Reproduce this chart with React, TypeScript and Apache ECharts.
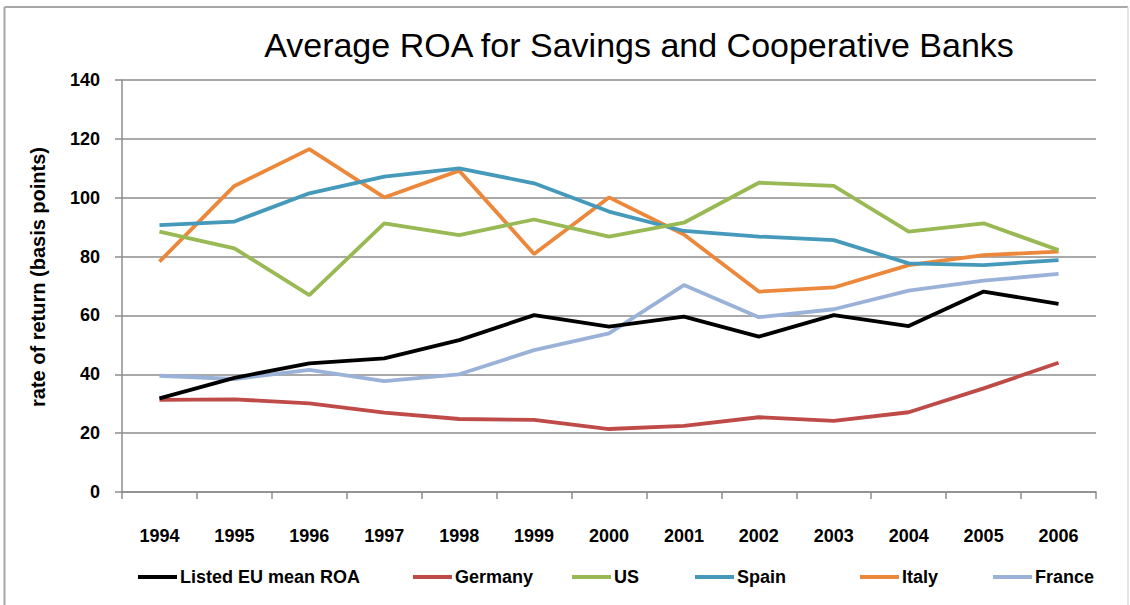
import React, { useEffect, useRef } from "react";
import * as echarts from "echarts";

const years = ["1994", "1995", "1996", "1997", "1998", "1999", "2000", "2001", "2002", "2003", "2004", "2005", "2006"];
const listedEU = [31.8, 38.8, 43.7, 45.4, 51.6, 60.1, 56.2, 59.6, 52.8, 60.1, 56.4, 68.1, 63.9];
const germany = [31.3, 31.5, 30.1, 27.0, 24.8, 24.5, 21.4, 22.5, 25.4, 24.2, 27.1, 35.2, 43.9];
const us = [88.5, 82.8, 66.9, 91.3, 87.3, 92.6, 86.8, 91.5, 105.1, 104.0, 88.5, 91.3, 82.2];
const spain = [90.7, 91.9, 101.5, 107.2, 110.0, 104.9, 95.3, 88.7, 86.8, 85.6, 77.7, 77.1, 78.8];
const italy = [78.3, 104.0, 116.5, 100.1, 109.2, 80.9, 100.1, 87.5, 68.1, 69.5, 77.1, 80.5, 81.7];
const france = [39.5, 38.4, 41.5, 37.7, 40.0, 48.2, 53.9, 70.3, 59.4, 62.1, 68.4, 71.8, 74.1];

const seriesNames = ["Listed EU mean ROA", "Germany", "US", "Spain", "Italy", "France"];
const seriesData = [listedEU, germany, us, spain, italy, france];
const colors = ["#000000", "#be4b48", "#98b954", "#4599ba", "#ec883b", "#9bb2d8"];
const legendLefts = [133, 408, 567, 690, 855, 988];

const FONT = "'Liberation Sans', Arial, sans-serif";

export default function App() {
  const ref = useRef<HTMLDivElement>(null);
  useEffect(() => {
    document.body.style.margin = "0";
    const chart = echarts.init(ref.current!, null, { renderer: "svg" });
    const option: any = {
      animation: false,
      backgroundColor: "#ffffff",
      title: {
        text: "Average ROA for Savings and Cooperative Banks",
        left: 634,
        textAlign: "center",
        top: 23,
        textStyle: { fontFamily: FONT, fontSize: 34, fontWeight: "normal", color: "#000" },
      },
      grid: { left: 122, right: 34, top: 80, bottom: 113, containLabel: false },
      legend: seriesNames.map((n, i) => ({
        data: [n],
        left: legendLefts[i],
        top: 563,
        icon: "rect",
        itemWidth: 39,
        itemHeight: 4,
        textStyle: { fontFamily: FONT, fontSize: 18, fontWeight: "bold", color: "#000", padding: [0, 0, 0, -2] },
      })),
      xAxis: {
        type: "category",
        data: years,
        boundaryGap: true,
        axisLine: { lineStyle: { color: "#8c8c8c", width: 1.5 } },
        axisTick: { show: true, length: 7, interval: 0, lineStyle: { color: "#8c8c8c", width: 1.5 } },
        axisLabel: { margin: 35, fontFamily: FONT, fontSize: 18, fontWeight: "bold", color: "#000", interval: 0 },
      },
      yAxis: {
        type: "value",
        min: 0,
        max: 140,
        interval: 20,
        axisLine: { show: true, lineStyle: { color: "#8c8c8c", width: 1.5 } },
        axisTick: { show: true, length: 7, lineStyle: { color: "#8c8c8c", width: 1.5 } },
        axisLabel: { margin: 22, fontFamily: FONT, fontSize: 18, fontWeight: "bold", color: "#000" },
        splitLine: { lineStyle: { color: "#8c8c8c", width: 1.5 } },
      },
      graphic: [
        { type: "line", shape: { x1: 4.5, y1: 7, x2: 4.5, y2: 605 }, style: { stroke: "#a8a8a8", lineWidth: 2 } },
        { type: "line", shape: { x1: 4.5, y1: 7, x2: 1128, y2: 7 }, style: { stroke: "#a8a8a8", lineWidth: 2 } },
        { type: "line", shape: { x1: 1128, y1: 7, x2: 1128, y2: 605 }, style: { stroke: "#dddddd", lineWidth: 1.5 } },
        {
          type: "text",
          x: 38,
          y: 277,
          rotation: Math.PI / 2,
          style: {
            text: "rate of return (basis points)",
            fontFamily: FONT,
            fontSize: 20,
            fontWeight: "bold",
            fill: "#000",
            align: "center",
            verticalAlign: "middle",
          },
        },
      ],
      series: seriesNames.map((n, i) => ({
        name: n,
        type: "line",
        data: seriesData[i],
        showSymbol: false,
        symbol: "none",
        lineStyle: { color: colors[i], width: 3.8 },
        itemStyle: { color: colors[i] },
        z: 10 - i,
      })),
    };
    chart.setOption(option);
    return () => chart.dispose();
  }, []);
  return <div ref={ref} style={{ width: 1130, height: 605 }} />;
}
